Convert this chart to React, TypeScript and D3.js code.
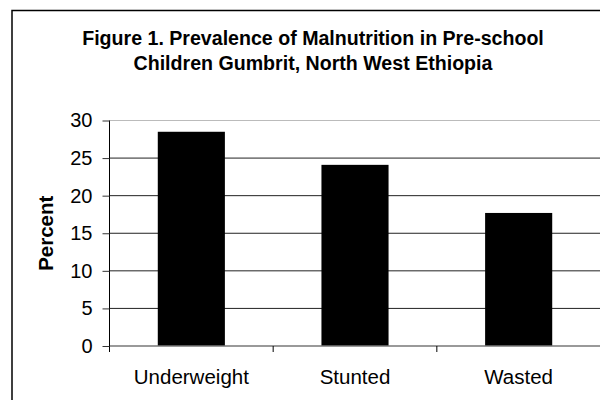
import React, { useEffect, useRef } from "react";
import * as d3 from "d3";

const categories = ["Underweight", "Stunted", "Wasted"];
const values = [28.5, 24.1, 17.7];
const yTicks = [0, 5, 10, 15, 20, 25, 30];
const titleLines = [
  "Figure 1. Prevalence of Malnutrition in Pre-school",
  "Children Gumbrit, North West Ethiopia",
];
const yAxisTitle = "Percent";

export default function App() {
  const ref = useRef<SVGSVGElement>(null);

  useEffect(() => {
    const svg = d3.select(ref.current);
    svg.selectAll("*").remove();
    const font = "'Liberation Sans', Arial, sans-serif";

    const left = 109.5, right = 600.5, top = 120.5, bottom = 346;

    // outer border
    svg.append("rect")
      .attr("x", 12).attr("y", 10.5)
      .attr("width", 603).attr("height", 400)
      .attr("fill", "white").attr("stroke", "#000").attr("stroke-width", 1.5);

    // title
    svg.append("g").selectAll("text").data(titleLines).join("text")
      .attr("x", 313).attr("y", (_, i) => 45 + i * 25)
      .attr("text-anchor", "middle")
      .attr("font-family", font).attr("font-weight", "bold").attr("font-size", 19.6)
      .attr("fill", "#000")
      .text((d) => d);

    const x = d3.scaleBand<string>().domain(categories).range([left, right]).padding(0);
    const y = d3.scaleLinear().domain([0, 30]).range([bottom, top]);

    // gridlines
    svg.append("g").selectAll("line").data(yTicks.filter((t) => t > 0)).join("line")
      .attr("x1", left).attr("x2", right)
      .attr("y1", (d) => y(d)).attr("y2", (d) => y(d))
      .attr("stroke", (d) => (d === 30 ? "#bbb" : "#222")).attr("stroke-width", 1);

    // bars
    const bw = x.bandwidth() * 0.41;
    svg.append("g").selectAll("rect").data(values).join("rect")
      .attr("x", (_, i) => x(categories[i])! + x.bandwidth() / 2 - bw / 2)
      .attr("y", (d) => y(d))
      .attr("width", bw)
      .attr("height", (d) => y(0) - y(d))
      .attr("fill", "#000");

    // zero line
    svg.append("line")
      .attr("x1", left).attr("x2", right).attr("y1", y(0)).attr("y2", y(0))
      .attr("stroke", "#777").attr("stroke-width", 1.5);

    // y axis
    const yAxis = d3.axisLeft(y).tickValues(yTicks).tickSize(7).tickPadding(10).tickFormat(d3.format("d"));
    const gy = svg.append("g").attr("transform", `translate(${left},0)`).call(yAxis);
    gy.select(".domain").attr("stroke", "#000").attr("d", `M0,${top}V${bottom + 6}`);
    gy.selectAll(".tick line").attr("stroke", "#333");
    gy.selectAll(".tick text").attr("font-family", font).attr("font-size", 20).attr("fill", "#000");

    // x axis category ticks
    const boundaries = [...categories.map((c) => x(c)!), right];
    svg.append("g").selectAll("line").data(boundaries.slice(1)).join("line")
      .attr("x1", (d) => d).attr("x2", (d) => d)
      .attr("y1", bottom).attr("y2", bottom + 6)
      .attr("stroke", "#000");

    svg.append("g").selectAll("text").data(categories).join("text")
      .attr("x", (d) => x(d)! + x.bandwidth() / 2)
      .attr("y", 384)
      .attr("text-anchor", "middle")
      .attr("font-family", font).attr("font-size", 20.5).attr("fill", "#000")
      .text((d) => d);

    // y axis title
    svg.append("text")
      .attr("transform", `translate(53,${(top + bottom) / 2}) rotate(-90)`)
      .attr("text-anchor", "middle")
      .attr("font-family", font).attr("font-weight", "bold").attr("font-size", 20.5)
      .attr("fill", "#000")
      .text(yAxisTitle);
  }, []);

  return (
    <svg
      ref={ref}
      width={600}
      height={400}
      style={{ position: "absolute", left: 0, top: 0, background: "white" }}
    />
  );
}
